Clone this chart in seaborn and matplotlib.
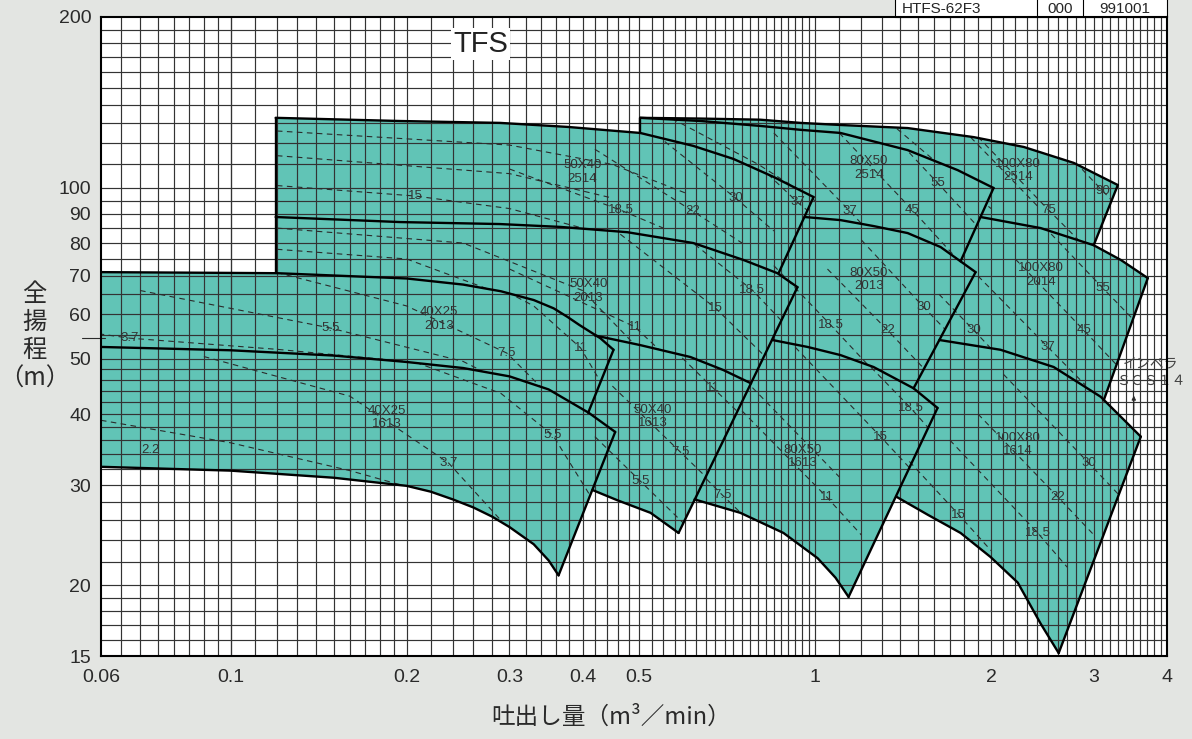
import numpy as np
import pandas as pd
import matplotlib
matplotlib.use("Agg")
import matplotlib.pyplot as plt
from matplotlib.patches import Polygon, Rectangle
from matplotlib.ticker import NullLocator
import seaborn as sns

# pump ranges: Q (m3/min) vs total head H (m)

# 40X25
q_4025_1613_top = [0.06, 0.1, 0.15, 0.2, 0.25, 0.3, 0.35, 0.41, 0.455]
h_4025_1613_top = [52.5, 51.8, 50.7, 49.4, 48.2, 46.6, 44.2, 40.2, 37.2]
q_4025_1613_bot = [0.06, 0.1, 0.15, 0.2, 0.22, 0.24, 0.26, 0.28, 0.3, 0.33, 0.35, 0.364]
h_4025_1613_bot = [32.3, 31.8, 30.9, 29.9, 29.2, 28.3, 27.4, 26.4, 25.3, 23.6, 22.1, 20.8]
q_4025_2013_top = [0.06, 0.12, 0.2, 0.25, 0.29, 0.33, 0.357, 0.377, 0.395, 0.408, 0.429, 0.452]
h_4025_2013_top = [71.1, 70.8, 69.3, 67.6, 65.8, 63.5, 61.4, 59.3, 57.4, 56.2, 54.4, 51.9]

# 50X40
q_5040_1613_top = [0.42, 0.502, 0.612, 0.697, 0.777]
h_5040_1613_top = [55.0, 52.9, 50.4, 47.8, 45.3]
q_5040_1613_bot = [0.416, 0.459, 0.523, 0.584]
h_5040_1613_bot = [29.4, 28.2, 26.8, 24.7]
q_5040_2013_top = [0.1194, 0.195, 0.289, 0.367, 0.477, 0.619, 0.754, 0.862, 0.933]
h_5040_2013_top = [88.9, 87.1, 86.4, 85.4, 83.6, 80.0, 74.7, 70.8, 66.9]
q_5040_2514_top = [0.1194, 0.195, 0.289, 0.377, 0.502, 0.619, 0.725, 0.849, 0.994]
h_5040_2514_top = [132.9, 131.2, 130.2, 128.1, 125.0, 118.6, 112.5, 104.6, 96.4]

# 80X50
q_8050_1613_top = [0.845, 0.971, 1.105, 1.259, 1.474, 1.62]
h_8050_1613_top = [54.0, 52.5, 50.8, 48.4, 44.4, 41.0]
q_8050_1613_bot = [0.622, 0.745, 0.883, 1.01, 1.084, 1.141]
h_8050_1613_bot = [28.3, 26.8, 24.7, 22.3, 20.6, 19.06]
q_8050_2013_top = [0.96, 1.105, 1.259, 1.44, 1.64, 1.882]
h_8050_2013_top = [88.9, 87.8, 85.7, 83.3, 78.7, 71.1]
q_8050_2514_top = [0.502, 0.637, 0.806, 0.944, 1.105, 1.44, 1.754, 2.02]
h_8050_2514_top = [132.9, 131.2, 128.6, 126.6, 125.0, 116.6, 107.5, 100.0]

# 100X80
q_10080_2514_top = [0.502, 0.637, 0.806, 0.944, 1.105, 1.44, 1.868, 2.275, 2.771, 3.296]
h_10080_2514_top = [132.9, 132.5, 131.9, 130.2, 129.1, 127.5, 122.9, 118.1, 110.7, 101.2]
q_10080_2014_top = [1.92, 2.432, 2.997, 3.335, 3.709]
h_10080_2014_top = [88.9, 85.0, 79.3, 74.7, 69.4]
q_10080_1614_top = [1.632, 2.077, 2.56, 3.081, 3.608]
h_10080_1614_top = [54.0, 51.9, 48.4, 42.9, 36.5]
q_10080_1614_bot = [1.378, 1.558, 1.774, 1.997, 2.222, 2.432, 2.611]
h_10080_1614_bot = [28.6, 26.6, 24.7, 22.4, 20.2, 17.1, 15.18]

# straight right-hand limits and left sides
edge_4025_2013 = ([0.452, 0.409], [51.9, 40.2])
edge_4025_1613 = ([0.455, 0.364], [37.2, 20.8])
edge_5040 = ([0.933, 0.584], [66.9, 24.7])
edge_5040_2514 = ([0.994, 0.866], [96.4, 70.8])
side_5040 = ([0.1194, 0.1194], [70.8, 132.9])
edge_8050_2514 = ([2.02, 1.774], [100.0, 74.3])
edge_8050_2013 = ([1.882, 1.474], [71.1, 44.4])
edge_8050_1613 = ([1.62, 1.141], [41.0, 19.06])
side_2514 = ([0.502, 0.502], [125.0, 132.9])
edge_10080_2514 = ([3.296, 2.997], [101.2, 79.3])
edge_10080_2014 = ([3.709, 3.118], [69.4, 42.3])
edge_10080_1614 = ([3.608, 2.611], [36.5, 15.18])

# dashed motor-power lines inside each range
dash_4025_1613 = [([0.06, 0.1, 0.16, 0.22], [39.0, 35.6, 31.8, 29.0]),
                  ([0.09, 0.16, 0.236, 0.29], [50.5, 43.0, 32.8, 26.0]),
                  ([0.2, 0.29, 0.356, 0.41], [50.0, 43.5, 36.7, 29.0])]
dash_4025_2013 = [([0.055, 0.0673, 0.12, 0.2], [56.0, 54.4, 52.0, 49.5]),
                  ([0.07, 0.148, 0.25, 0.3], [66.0, 56.7, 49.5, 45.0]),
                  ([0.12, 0.2, 0.297, 0.36], [71.0, 62.0, 51.2, 42.0]),
                  ([0.25, 0.33, 0.397, 0.45], [72.0, 62.0, 52.3, 42.0])]
dash_5040_1613 = [([0.42, 0.502, 0.6], [36.5, 30.5, 25.5]),
                  ([0.45, 0.588, 0.7], [44.8, 34.3, 28.8]),
                  ([0.5, 0.67, 0.8], [59.5, 44.4, 37.2])]
dash_5040_2013 = [([0.12, 0.25, 0.4, 0.5], [85.0, 80.0, 66.0, 52.0]),
                  ([0.12, 0.2, 0.33, 0.42], [78.0, 75.0, 62.0, 50.0]),
                  ([0.3, 0.491, 0.6], [72.0, 57.0, 47.0]),
                  ([0.45, 0.675, 0.85], [85.0, 61.5, 48.8]),
                  ([0.55, 0.781, 0.95], [88.0, 66.1, 53.5])]
dash_5040_2514 = [([0.12, 0.3, 0.45, 0.6], [126, 119, 110, 98]),
                  ([0.12, 0.3, 0.45], [114, 106, 96]),
                  ([0.12, 0.207, 0.3, 0.4], [101, 96.8, 92, 85]),
                  ([0.3, 0.465, 0.55], [108, 91.4, 85]),
                  ([0.42, 0.617, 0.75], [117, 91.1, 80]),
                  ([0.52, 0.731, 0.85], [127, 96, 84]),
                  ([0.7, 0.933, 1.0], [125, 94.4, 89])]
dash_8050_1613 = [([0.6, 0.694, 0.8], [33.5, 28.8, 25.0]),
                  ([0.7, 1.1], [50, 31]),
                  ([0.75, 1.046, 1.2], [40.5, 28.6, 24.5]),
                  ([0.9, 1.294, 1.5], [54, 36.5, 31]),
                  ([1.0, 1.457, 1.65], [61, 41.0, 35.5])]
dash_8050_2013 = [([0.85, 1.063, 1.3], [73, 57.4, 46]),
                  ([1.05, 1.33, 1.6], [72, 56.2, 46]),
                  ([1.2, 1.534, 1.8], [81, 61.7, 52])]
dash_8050_2514 = [([0.55, 0.8, 1.0], [135, 110, 95]),
                  ([0.85, 1.146, 1.4], [125, 91.1, 73]),
                  ([1.1, 1.468, 1.75], [125, 91.4, 75]),
                  ([1.2, 1.62, 1.95], [142, 102.1, 83])]
dash_10080_2514 = [([1.3, 2.0], [134, 92]),
                   ([1.7, 2.4], [134, 93]),
                   ([1.9, 2.511, 3.0], [123, 91.4, 76]),
                   ([2.5, 3.105, 3.5], [125, 98.8, 87])]
dash_10080_2014 = [([1.5, 1.868, 2.2], [71, 56.2, 47]),
                   ([1.9, 2.501, 2.9], [70, 52.5, 45]),
                   ([2.2, 2.882, 3.3], [75, 56.2, 48.5]),
                   ([2.4, 3.105, 3.6], [88, 66.7, 57])]
dash_10080_1614 = [([1.45, 1.761, 2.0], [33, 26.6, 23]),
                   ([1.7, 2.404, 2.7], [36, 24.7, 21.5]),
                   ([1.9, 2.601, 3.0], [40, 28.6, 24.5]),
                   ([2.1, 2.939, 3.4], [47, 32.8, 28])]

kw_labels = [("2.2", 0.0728, 34.6), ("3.7", 0.236, 32.8), ("5.5", 0.356, 36.7),
             ("3.7", 0.0673, 54.4), ("5.5", 0.148, 56.7), ("7.5", 0.297, 51.2), ("11", 0.397, 52.3),
             ("5.5", 0.502, 30.5), ("7.5", 0.588, 34.3), ("11", 0.67, 44.4),
             ("11", 0.491, 57.0), ("15", 0.675, 61.5), ("18.5", 0.781, 66.1),
             ("15", 0.207, 96.8), ("18.5", 0.465, 91.4), ("22", 0.617, 91.1), ("30", 0.731, 96.0), ("37", 0.933, 94.4),
             ("7.5", 0.694, 28.8), ("11", 1.046, 28.6), ("15", 1.294, 36.5), ("18.5", 1.457, 41.0),
             ("18.5", 1.063, 57.4), ("22", 1.33, 56.2), ("30", 1.534, 61.7),
             ("37", 1.146, 91.1), ("45", 1.468, 91.4), ("55", 1.62, 102.1),
             ("75", 2.511, 91.4), ("90", 3.105, 98.8),
             ("30", 1.868, 56.2), ("37", 2.501, 52.5), ("45", 2.882, 56.2), ("55", 3.105, 66.7),
             ("15", 1.761, 26.6), ("18.5", 2.404, 24.7), ("22", 2.601, 28.6), ("30", 2.939, 32.8)]

model_labels = [("40X25\n1613", 0.185, 39.4), ("40X25\n2013", 0.227, 58.8),
                ("50X40\n1613", 0.527, 39.6), ("50X40\n2013", 0.409, 65.9), ("50X40\n2514", 0.400, 106.7),
                ("80X50\n1613", 0.951, 33.7), ("80X50\n2013", 1.235, 69.1), ("80X50\n2514", 1.235, 108.4),
                ("100X80\n1614", 2.222, 35.4), ("100X80\n2014", 2.432, 70.3), ("100X80\n2514", 2.222, 107.3)]

x_ticks = [0.06, 0.1, 0.2, 0.3, 0.4, 0.5, 1, 2, 3, 4]
x_tick_labels = ["0.06", "0.1", "0.2", "0.3", "0.4", "0.5", "1", "2", "3", "4"]
y_ticks = [15, 20, 30, 40, 50, 60, 70, 80, 90, 100, 200]
y_tick_labels = ["15", "20", "30", "40", "50", "60", "70", "80", "90", "100", "200"]

TEAL = "#61c4b6"
BG = "#e3e5e2"
INK = "#2b2b2b"
GRID = "#333333"
CJK = ["Noto Sans CJK JP", "DejaVu Sans"]

sns.set_theme(style="white")
plt.rcParams["font.family"] = ["Liberation Sans", "Noto Sans CJK JP", "DejaVu Sans"]


def pts(q, h):
    return list(zip(q, h))


def between(q, h, lo, hi):
    # points of a curve, right to left, with lo < Q < hi
    return [(a, b) for a, b in zip(q[::-1], h[::-1]) if lo < a < hi]


def end(edge):
    return [(edge[0][1], edge[1][1])]


# filled outlines; the hidden left/bottom parts tuck under the neighbouring ranges
regions = {
    "4025_1613": pts(q_4025_1613_top, h_4025_1613_top) + pts(q_4025_1613_bot, h_4025_1613_bot)[::-1],
    "4025_2013": pts(q_4025_2013_top, h_4025_2013_top) + end(edge_4025_2013)
                 + between(q_4025_1613_top, h_4025_1613_top, 0, 0.409),
    "5040_1613": pts(q_5040_1613_top, h_5040_1613_top) + pts(q_5040_1613_bot, h_5040_1613_bot)[::-1]
                 + [(0.38, 40.0), (0.38, 56.0)],
    "5040_2013": pts(q_5040_2013_top, h_5040_2013_top) + [(q_5040_1613_top[-1], h_5040_1613_top[-1])]
                 + pts(q_5040_1613_top, h_5040_1613_top)[::-1]
                 + between(q_4025_2013_top, h_4025_2013_top, 0.119, 0.418) + [(0.1194, 70.8)],
    "5040_2514": pts(q_5040_2514_top, h_5040_2514_top) + end(edge_5040_2514)
                 + between(q_5040_2013_top, h_5040_2013_top, 0.119, 0.866),
    "8050_1613": pts(q_8050_1613_top, h_8050_1613_top) + pts(q_8050_1613_bot, h_8050_1613_bot)[::-1],
    "8050_2013": pts(q_8050_2013_top, h_8050_2013_top) + end(edge_8050_2013)
                 + between(q_8050_1613_top, h_8050_1613_top, 0, 1.474) + [(0.8, 60.0), (0.8, 85.0)],
    "8050_2514": pts(q_8050_2514_top, h_8050_2514_top) + end(edge_8050_2514)
                 + between(q_8050_2013_top, h_8050_2013_top, 0, 1.774)
                 + between(q_5040_2514_top, h_5040_2514_top, 0.5, 1.0),
    "10080_2514": pts(q_10080_2514_top, h_10080_2514_top) + end(edge_10080_2514)
                  + between(q_10080_2014_top, h_10080_2014_top, 0, 2.997) + [(2.02, 100.0)]
                  + between(q_8050_2514_top, h_8050_2514_top, 0, 2.02),
    "10080_2014": pts(q_10080_2014_top, h_10080_2014_top) + end(edge_10080_2014)
                  + between(q_10080_1614_top, h_10080_1614_top, 0, 3.118) + [(1.55, 60.0), (1.774, 74.3)],
    "10080_1614": pts(q_10080_1614_top, h_10080_1614_top) + pts(q_10080_1614_bot, h_10080_1614_bot)[::-1]
                  + [(1.45, 44.0)],
}

dashed = {"4025_1613": dash_4025_1613, "4025_2013": dash_4025_2013,
          "5040_1613": dash_5040_1613, "5040_2013": dash_5040_2013, "5040_2514": dash_5040_2514,
          "8050_1613": dash_8050_1613, "8050_2013": dash_8050_2013, "8050_2514": dash_8050_2514,
          "10080_2514": dash_10080_2514, "10080_2014": dash_10080_2014, "10080_1614": dash_10080_1614}

outlines = [
    (q_4025_2013_top, h_4025_2013_top), edge_4025_2013,
    (q_4025_1613_top, h_4025_1613_top), edge_4025_1613, (q_4025_1613_bot, h_4025_1613_bot),
    (q_5040_2514_top, h_5040_2514_top), edge_5040_2514, side_5040,
    (q_5040_2013_top, h_5040_2013_top), edge_5040,
    (q_5040_1613_top, h_5040_1613_top), (q_5040_1613_bot, h_5040_1613_bot),
    (q_8050_2514_top, h_8050_2514_top), edge_8050_2514, side_2514,
    (q_8050_2013_top, h_8050_2013_top), edge_8050_2013,
    (q_8050_1613_top, h_8050_1613_top), edge_8050_1613, (q_8050_1613_bot, h_8050_1613_bot),
    (q_10080_2514_top, h_10080_2514_top), edge_10080_2514,
    (q_10080_2014_top, h_10080_2014_top), edge_10080_2014,
    (q_10080_1614_top, h_10080_1614_top), edge_10080_1614, (q_10080_1614_bot, h_10080_1614_bot),
]
rows = []
for i, (q, h) in enumerate(outlines):
    for a, b in zip(q, h):
        rows.append({"seg": i, "Q": a, "H": b})
df_lines = pd.DataFrame(rows)

fig = plt.figure(figsize=(11.92, 7.39), dpi=100)
fig.patch.set_facecolor(BG)
ax = fig.add_axes([0.0847, 0.1123, 0.8943, 0.8647])
ax.set_facecolor("white")
ax.set_xscale("log")
ax.set_yscale("log")

# graph-paper grid
x_grid = np.concatenate([np.arange(0.065, 0.1, 0.005), np.arange(0.1, 0.2, 0.01),
                         np.arange(0.2, 0.5, 0.02), np.arange(0.5, 1.0, 0.025),
                         np.arange(1.0, 3.95, 0.1)])
y_grid = np.concatenate([np.arange(16, 20, 1), np.arange(20, 50, 2),
                         np.arange(50, 100, 5), np.arange(100, 200, 10)])
ax.vlines(x_grid, 15, 200, colors=GRID, lw=0.85, zorder=0.5)
ax.hlines(y_grid, 0.06, 4, colors=GRID, lw=0.85, zorder=0.5)

patches = {}
for name, poly in regions.items():
    p = Polygon(poly, closed=True, facecolor=TEAL, edgecolor="none", zorder=0.3)
    ax.add_patch(p)
    patches[name] = p

for name, lines in dashed.items():
    for q, h in lines:
        ln, = ax.plot(q, h, color=INK, lw=0.8, ls=(0, (5, 4)), zorder=1)
        ln.set_clip_path(patches[name])

sns.lineplot(data=df_lines, x="Q", y="H", units="seg", estimator=None, sort=False,
             color="black", lw=1.7, legend=False, ax=ax, zorder=3)

for t, q, h in kw_labels:
    ax.text(q, h, t, fontsize=9.5, color="#333333", ha="center", va="center", zorder=4)
for t, q, h in model_labels:
    ax.text(q, h, t, fontsize=9.5, color="#333333", ha="center", va="center",
            linespacing=1.15, zorder=4)

ax.plot([0.0556, 0.061], [54.4, 54.4], color=INK, lw=0.8, clip_on=False, zorder=4)

ax.text(0.268, 179, "TFS", fontsize=21, color="#222222", ha="center", va="center",
        bbox=dict(fc="white", ec="none", pad=1.5), zorder=4)

ax.text(3.75, 47.3, "インペラ\nＳＣＳ１４", fontsize=10, color="#444444", family=CJK,
        ha="center", va="center", linespacing=1.3, clip_on=False, zorder=4)
ax.annotate("", xy=(3.51, 43.6), xytext=(3.51, 39.3),
            arrowprops=dict(arrowstyle="-|>", color=INK, lw=0.8, mutation_scale=6), zorder=4)

# drawing number box above the frame
ax.add_patch(Rectangle((0.745, 1.0), 0.255, 0.04, transform=ax.transAxes, fc="white",
                       ec="black", lw=0.8, clip_on=False))
for xb in [0.878, 0.921]:
    ax.plot([xb, xb], [1.0, 1.04], transform=ax.transAxes, color="black", lw=0.8, clip_on=False)
ax.text(0.7514, 1.013, "HTFS-62F3", transform=ax.transAxes, fontsize=11, va="center", ha="left")
ax.text(0.8995, 1.013, "000", transform=ax.transAxes, fontsize=11, va="center", ha="center")
ax.text(0.9606, 1.013, "991001", transform=ax.transAxes, fontsize=11, va="center", ha="center")

ax.set_xlim(0.06, 4)
ax.set_ylim(15, 200)
ax.set_xticks(x_ticks, labels=x_tick_labels)
ax.set_yticks(y_ticks, labels=y_tick_labels)
ax.xaxis.set_minor_locator(NullLocator())
ax.yaxis.set_minor_locator(NullLocator())
ax.tick_params(which="both", length=0, labelsize=14, labelcolor="#2a2a2a")
ax.tick_params(axis="y", pad=7)
ax.tick_params(axis="x", pad=9)
ax.set_xlabel("")
ax.set_ylabel("")
for s in ax.spines.values():
    s.set_color("black")
    s.set_linewidth(1.5)
    s.set_zorder(5)

fig.text(0.029, 0.545, "全\n揚\n程\n（m）", fontsize=17.5, family=CJK, color="#2a2a2a",
         ha="center", va="center", linespacing=1.1)
fig.text(0.513, 0.03, "吐出し量（m³／min）", fontsize=17, family=CJK, color="#2a2a2a",
         ha="center", va="center")

fig.savefig("out.png", dpi=100, facecolor=fig.get_facecolor())
